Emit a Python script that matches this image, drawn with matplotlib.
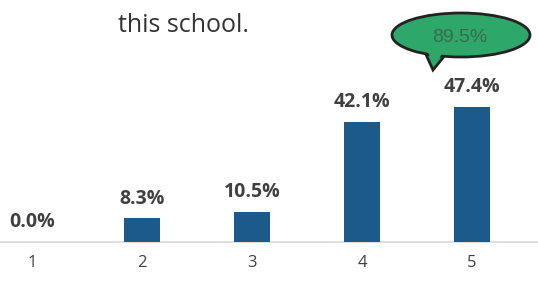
import matplotlib.pyplot as plt
from matplotlib.patches import Ellipse, Polygon

categories = ['1', '2', '3', '4', '5']
values = [0.0, 8.3, 10.5, 42.1, 47.4]
labels = ['0.0%', '8.3%', '10.5%', '42.1%', '47.4%']
callout = '89.5%'
caption = 'this school.'

bar_color = '#1b5a8b'
label_color = '#404040'

fig = plt.figure(figsize=(5.38, 2.90), dpi=100)
ax = fig.add_axes([0, 0, 1, 1])

x = list(range(1, len(categories) + 1))
bars = ax.bar(x, values, width=0.32, color=bar_color, zorder=2)

for b, lab in zip(bars, labels):
    ax.annotate(lab, (b.get_x() + b.get_width() / 2, b.get_height()),
                xytext=(0, 7), textcoords='offset points', ha='center', va='bottom',
                fontsize=14, fontweight='bold', color=label_color, family='Open Sans')

ax.axhline(0, color='#d9d9d9', lw=1.2, zorder=1)
for xi, c in zip(x, categories):
    ax.text(xi, -7.2, c, ha='center', va='center', fontsize=12, color='#404040', family='Open Sans')

ax.set_xlim(1 - 32 / 110, 1 + 506 / 110)
ax.set_ylim(-48 / 2.85, 242 / 2.85)
ax.axis('off')

fig.text(118 / 538, 1 - 26 / 290, caption, ha='left', va='center', fontsize=18,
         color='#333333', family='Open Sans')

# speech bubble (pixel coords, origin bottom-left)
H = 290
green = '#2ea86a'
tail = Polygon([(424, H - 50), (446, H - 54), (433, H - 70)], closed=True,
               facecolor=green, edgecolor='#222222', lw=2, transform=None)
fig.patches.append(tail)
ell = Ellipse((461, H - 35), 138, 44, facecolor=green, edgecolor='#222222', lw=2,
              transform=None)
fig.patches.append(ell)
cover = Polygon([(427, H - 50), (443, H - 52), (434, H - 66)], closed=True,
                facecolor=green, edgecolor='none', transform=None)
fig.patches.append(cover)
fig.text(460 / 538, 1 - 38 / 290, callout, ha='center', va='center', fontsize=14,
         color='#3a6a4c', family='Liberation Sans')

fig.savefig('out.png', dpi=100)
